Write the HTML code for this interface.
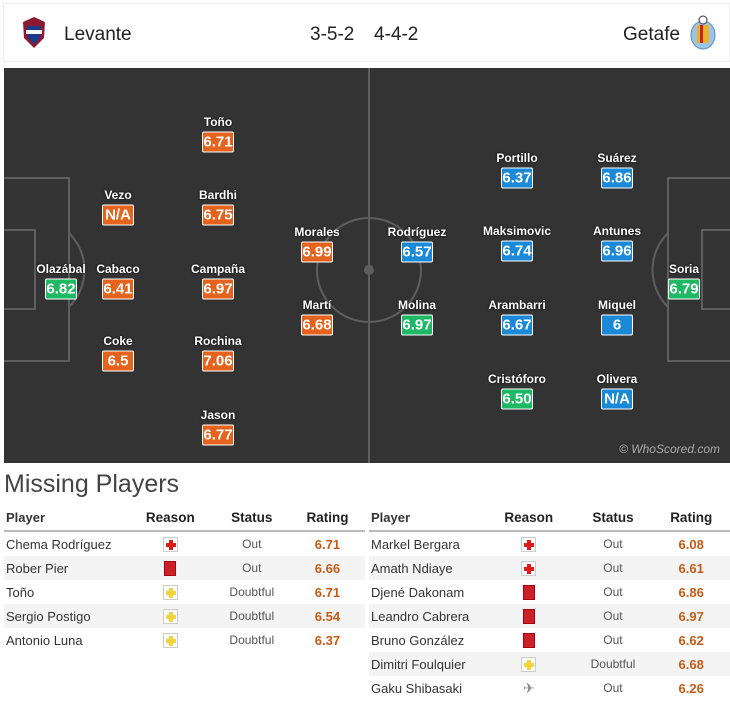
<!DOCTYPE html>
<html><head><meta charset="utf-8">
<style>
body{margin:0;width:730px;height:707px;background:#fff;font-family:"Liberation Sans",sans-serif;position:relative;overflow:hidden}
.hdr{position:absolute;left:3px;top:3px;width:727px;height:59px;border:1px solid #eee;box-sizing:border-box;background:#fff}
.team{position:absolute;top:20px;font-size:19px;color:#222}
#pitch{position:absolute;left:4px;top:68px}
.name{position:absolute;transform:translateX(-50%);color:#fff;font-weight:bold;font-size:12px;white-space:nowrap;text-shadow:0 0 2px #000}
.badge{position:absolute;transform:translate(-50%,-50%);width:30px;height:19px;border:1px solid #fff;border-radius:2px;color:#fff;font-weight:bold;font-size:15px;line-height:19px;text-align:center;box-sizing:content-box}
.o{background:#e5631c}.b{background:#1a8ad8}.g{background:#1fb864}
h2{position:absolute;left:4px;top:470px;margin:0;font-weight:normal;font-size:25px;color:#444}
table{position:absolute;top:504px;border-collapse:collapse;font-size:13px;width:361px}
th{font-weight:bold;height:24px;text-align:center;color:#222;border-bottom:2px solid #bbb;font-size:13.5px}
td{height:24px;padding:0;text-align:center;color:#555;font-size:12px}
td.p,th.p{text-align:left;padding-left:2px;font-size:13px;color:#333}
tr:nth-child(odd) td{background:#f4f4f4}
td.r{color:#c85a13;font-weight:bold;font-size:13px}
.ic{display:inline-block;width:13px;height:13px;vertical-align:middle;position:relative}
.inj{border:1px solid #ccc;background:#fff}
.inj:before,.inj:after{content:"";position:absolute;background:#e01b1b}
.inj:before{left:5px;top:2px;width:4px;height:10px}.inj:after{left:2px;top:5px;width:10px;height:4px}
.dbt{border:1px solid #ccc;background:#fff}
.dbt:before,.dbt:after{content:"";position:absolute;background:#f5d33b}
.dbt:before{left:5px;top:2px;width:4px;height:10px}.dbt:after{left:2px;top:5px;width:10px;height:4px}
.red{width:10px;height:13px;background:#cc2027;border:1px solid #a01}
.pl{color:#888;font-size:14px}
</style></head><body>
<div class="hdr">
  <svg style="position:absolute;left:15px;top:12px" width="30" height="34"><path d="M4 6 L15 1 L26 6 L25 22 L15 32 L5 22Z" fill="#8b1a2e"/><path d="M8 10 L22 10 L21 22 L15 28 L9 22Z" fill="#1a3b8b"/><rect x="7" y="14" width="16" height="4" fill="#fff"/></svg>
  <div class="team" style="left:60px">Levante</div>
  <div class="team" style="left:306px">3-5-2</div>
  <div class="team" style="left:370px">4-4-2</div>
  <div class="team" style="left:619px">Getafe</div>
  <svg style="position:absolute;left:684px;top:11px" width="30" height="36"><ellipse cx="15" cy="20" rx="12" ry="14" fill="#9cc4e4" stroke="#5a8fc0"/><rect x="9" y="10" width="12" height="18" fill="#e8b22a"/><rect x="12" y="10" width="3" height="18" fill="#c22"/><circle cx="15" cy="5" r="4" fill="#fff" stroke="#333"/></svg>
</div>
<svg id="pitch" width="726" height="395">
  <rect width="726" height="395" fill="#333"/>
  <g fill="none" stroke="#5e5e5e" stroke-width="2">
    <line x1="365" y1="0" x2="365" y2="395"/>
    <circle cx="365" cy="202" r="52"/>
    <rect x="-2" y="110" width="67" height="183"/>
    <rect x="-2" y="162" width="33" height="79"/>
    <path d="M65 165 A52 52 0 0 1 65 239"/>
    <rect x="664" y="110" width="70" height="183"/>
    <rect x="698" y="162" width="36" height="79"/>
    <path d="M664 165 A52 52 0 0 0 664 239"/>
  </g>
  <circle cx="365" cy="202" r="5" fill="#5e5e5e"/>
  <text x="716" y="385" text-anchor="end" font-size="12" font-style="italic" fill="#aaa" font-family="Liberation Sans">© WhoScored.com</text>
</svg>
<div id="players"></div>
<h2>Missing Players</h2>
<table style="left:4px">
<tr><th class="p" style="width:120px">Player</th><th>Reason</th><th>Status</th><th>Rating</th></tr>
<tr><td class="p">Chema Rodríguez</td><td><span class="ic inj"></span></td><td>Out</td><td class="r">6.71</td></tr>
<tr><td class="p">Rober Pier</td><td><span class="ic red"></span></td><td>Out</td><td class="r">6.66</td></tr>
<tr><td class="p">Toño</td><td><span class="ic dbt"></span></td><td>Doubtful</td><td class="r">6.71</td></tr>
<tr><td class="p">Sergio Postigo</td><td><span class="ic dbt"></span></td><td>Doubtful</td><td class="r">6.54</td></tr>
<tr><td class="p">Antonio Luna</td><td><span class="ic dbt"></span></td><td>Doubtful</td><td class="r">6.37</td></tr>
</table>
<table style="left:369px">
<tr><th class="p" style="width:112px">Player</th><th>Reason</th><th>Status</th><th>Rating</th></tr>
<tr><td class="p">Markel Bergara</td><td><span class="ic inj"></span></td><td>Out</td><td class="r">6.08</td></tr>
<tr><td class="p">Amath Ndiaye</td><td><span class="ic inj"></span></td><td>Out</td><td class="r">6.61</td></tr>
<tr><td class="p">Djené Dakonam</td><td><span class="ic red"></span></td><td>Out</td><td class="r">6.86</td></tr>
<tr><td class="p">Leandro Cabrera</td><td><span class="ic red"></span></td><td>Out</td><td class="r">6.97</td></tr>
<tr><td class="p">Bruno González</td><td><span class="ic red"></span></td><td>Out</td><td class="r">6.62</td></tr>
<tr><td class="p">Dimitri Foulquier</td><td><span class="ic dbt"></span></td><td>Doubtful</td><td class="r">6.68</td></tr>
<tr><td class="p">Gaku Shibasaki</td><td><span class="pl">✈</span></td><td>Out</td><td class="r">6.26</td></tr>
</table>
<script>
const playerNames=["Toño","Vezo","Bardhi","Olazábal","Cabaco","Campaña","Morales","Rodríguez","Martí","Molina","Coke","Rochina","Jason","Portillo","Suárez","Maksimovic","Antunes","Arambarri","Miquel","Cristóforo","Olivera","Soria"];
const playerRatings=["6.71","N/A","6.75","6.82","6.41","6.97","6.99","6.57","6.68","6.97","6.5","7.06","6.77","6.37","6.86","6.74","6.96","6.67","6","6.50","N/A","6.79"];
const playerTypes=["o","o","o","g","o","o","o","b","o","g","o","o","o","b","b","b","b","b","b","g","b","g"];
const playerX=[218,118,218,61,118,218,317,417,317,417,118,218,218,517,617,517,617,517,617,517,617,684];
const playerY=[142,215,215,289,289,289,252,252,325,325,361,361,435,178,178,251,251,325,325,399,399,289];
const c=document.getElementById('players');
playerNames.forEach((n,i)=>{
  const nm=document.createElement('div');nm.className='name';
  
  
  nm.style.left=playerX[i]+'px';nm.style.top=(playerY[i]-27)+'px';nm.textContent=n;c.appendChild(nm);
  const b=document.createElement('div');b.className='badge '+playerTypes[i];
  
  
  b.style.left=playerX[i]+'px';b.style.top=playerY[i]+'px';b.textContent=playerRatings[i];c.appendChild(b);
});
</script>
</body></html>
